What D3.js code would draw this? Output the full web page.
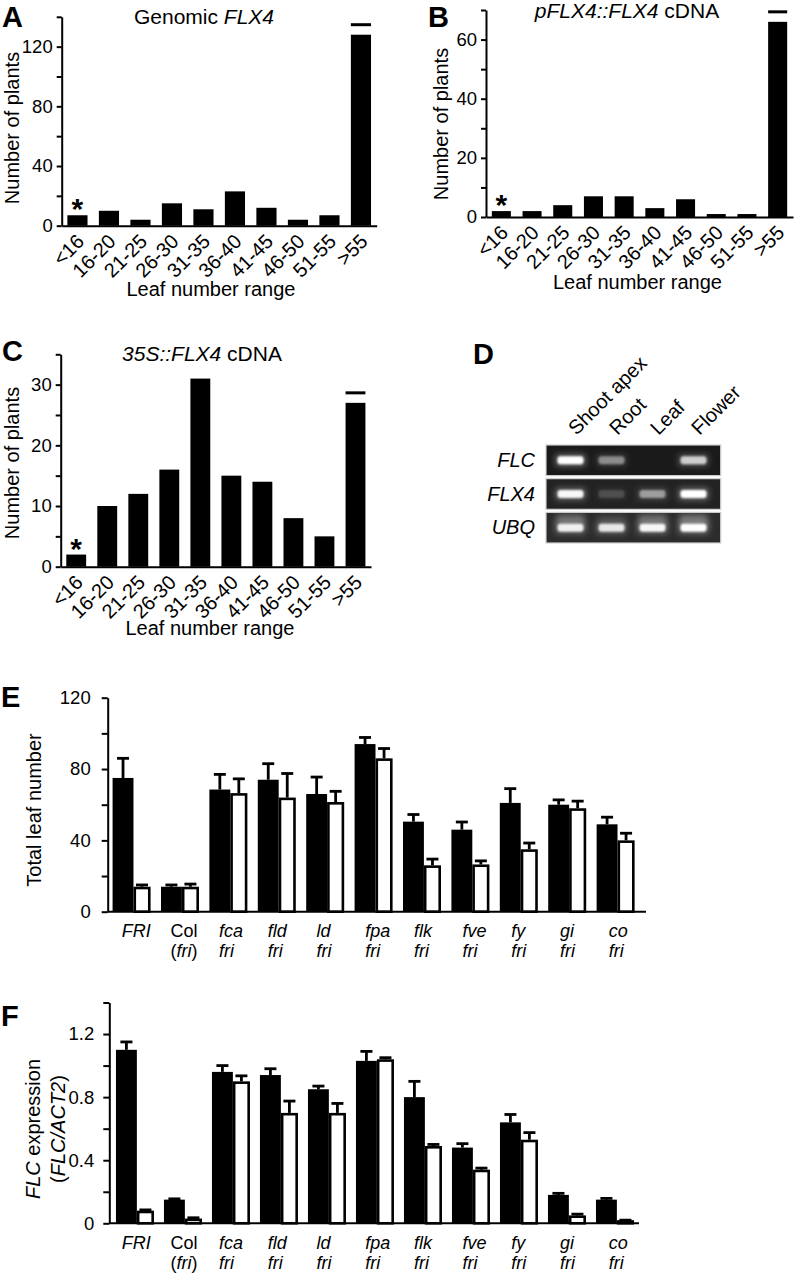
<!DOCTYPE html>
<html><head><meta charset="utf-8">
<script src="https://cdn.jsdelivr.net/npm/d3@7"></script>
<style>
body{margin:0;background:#fff;}
svg{display:block;font-family:"Liberation Sans",Arial,Helvetica,sans-serif;}
</style></head><body>
<svg id="fig" width="797" height="1273"></svg>
<script>
// ---------------- data ----------------
const leafRanges = ["<16","16-20","21-25","26-30","31-35","36-40","41-45","46-50","51-55",">55"];
const genomicCounts = [7,10,4,15,11,23,12,4,7,128];
const pFlx4Counts   = [2,2,4,7,7,3,6,1,1,66];
const s35Counts     = [2,10,12,16,31,15,14,8,5,27];
const ticksA = [0,40,80,120], minorA = [20,60,100,140];
const ticksB = [0,20,40,60],  minorB = [10,30,50,70];
const ticksC = [0,10,20,30],  minorC = [5,15,25,35];

const tissues = ["Shoot apex","Root","Leaf","Flower"];
const genes = ["FLC","FLX4","UBQ"];
const bandFLC  = [1.0,0.42,0.0,0.72];
const bandFLX4 = [0.95,0.16,0.48,1.0];
const bandUBQ  = [0.9,0.85,0.95,1.0];
const ubqSmear = [0.45,0.15,0.45,0.5];

const genotypes = ["FRI","Col","fca","fld","ld","fpa","flk","fve","fy","gi","co"];
const genoLine2 = ["","(fri)","fri","fri","fri","fri","fri","fri","fri","fri","fri"];
const leafBlack    = [75,14,68.5,74,66,94,50.5,46,61,60,49];
const leafBlackErr = [11,1,8.5,9,9.5,3.7,4,4.3,8,2.7,4];
const leafWhite    = [14,14,66.5,64,61.5,86,26,26.5,35,58,40];
const leafWhiteErr = [1,1.5,8,13.5,6,5.5,3.5,2,3.5,4,4];
const ticksE = [0,40,80,120], minorE = [20,60,100];

const flcBlack    = [1.10,0.15,0.96,0.94,0.85,1.03,0.80,0.48,0.64,0.18,0.15];
const flcBlackErr = [0.05,0.005,0.04,0.04,0.02,0.06,0.10,0.025,0.05,0.01,0.008];
const flcWhite    = [0.08,0.03,0.90,0.70,0.70,1.04,0.49,0.34,0.53,0.05,0.02];
const flcWhiteErr = [0.005,0.005,0.035,0.075,0.06,0.01,0.01,0.01,0.045,0.008,0];
const ticksF = [0,0.4,0.8,1.2], minorF = [0.2,0.6,1.0,1.4];

// ---------------- helpers ----------------
const svg = d3.select("#fig");
const LBL = 20, TICK = 18.5, CAT = 20, GCAT = 18;

function styleAxis(g, fs){
  g.attr("font-family", null).attr("font-size", null);
  g.select(".domain").attr("stroke","#000").attr("stroke-width",2);
  g.selectAll(".tick line").attr("stroke","#000").attr("stroke-width",2);
  g.selectAll(".tick text").attr("fill","#000").style("font-size", (fs||TICK)+"px");
}
function letter(t,x,y){
  svg.append("text").attr("x",x).attr("y",y).attr("font-weight","bold").attr("font-size",29).text(t);
}
function richText(parent, parts, x, y, anchor, fs, transform){
  const t = parent.append("text").attr("x",x).attr("y",y).attr("text-anchor",anchor||"middle")
    .attr("font-size",fs||LBL);
  if (transform) t.attr("transform",transform);
  parts.forEach(p=>{
    t.append("tspan").attr("font-style",p[1]?"italic":"normal").text(p[0]);
  });
  return t;
}

function histogram(c){
  const x = d3.scaleBand().domain(leafRanges).range([c.x0,c.x1]).paddingInner(c.pi).paddingOuter(c.pi/2);
  const y = d3.scaleLinear().domain([0,c.max]).range([c.y0,c.y1]);
  const g = svg.append("g");
  g.selectAll("rect").data(c.values).join("rect")
    .attr("x",(d,i)=>x(leafRanges[i])).attr("width",x.bandwidth())
    .attr("y",d=>y(d)).attr("height",d=>c.y0-y(d)).attr("fill","#000");
  const ay = g.append("g").attr("transform",`translate(${c.x0},0)`)
    .call(d3.axisLeft(y).tickValues(c.major).tickSize(5).tickSizeOuter(0).tickPadding(4));
  styleAxis(ay);
  const am = g.append("g").attr("transform",`translate(${c.x0},0)`)
    .call(d3.axisLeft(y).tickValues(c.minor).tickSize(5).tickSizeOuter(0).tickFormat(""));
  styleAxis(am); am.select(".domain").remove();
  const ax = g.append("g").attr("transform",`translate(0,${c.y0})`)
    .call(d3.axisBottom(x).tickSize(0).tickSizeOuter(0));
  styleAxis(ax, CAT);
  ax.selectAll(".tick text").attr("y",0).attr("dy",null).attr("text-anchor","end")
    .attr("transform","translate(8,17) rotate(-45)");
  const first = leafRanges[0], last = leafRanges[leafRanges.length-1];
  g.append("text").attr("x",x(first)+x.bandwidth()/2).attr("y",y(c.values[0])+4)
    .attr("text-anchor","middle").attr("font-size",30).attr("font-weight","bold").text("*");
  g.append("line").attr("x1",x(last)).attr("x2",x(last)+x.bandwidth())
    .attr("y1",y(c.values[c.values.length-1])-10).attr("y2",y(c.values[c.values.length-1])-10)
    .attr("stroke","#000").attr("stroke-width",3);
  richText(g, c.title, c.tx, c.ty, "middle", 21);
  g.append("text").attr("x",c.xlx).attr("y",c.xly).attr("text-anchor","middle").attr("font-size",LBL).text("Leaf number range");
  g.append("text").attr("transform",`translate(${c.ylx},${c.yly}) rotate(-90)`).attr("text-anchor","middle")
    .attr("font-size",LBL).text("Number of plants");
}

function grouped(c){
  const x = d3.scaleBand().domain(genotypes).range([c.x0,c.x1]).paddingInner(c.pi).paddingOuter(c.po).align(c.align);
  const y = d3.scaleLinear().domain([0,c.max]).range([c.y0,c.y1]);
  const g = svg.append("g");
  const bw = x.bandwidth(), wb = bw*0.55, sw = 2.6;
  const rows = genotypes.map((k,i)=>({k, b:c.black[i], be:c.blackErr[i], w:c.white[i], we:c.whiteErr[i]}));
  g.selectAll("rect.b").data(rows).join("rect").attr("class","b")
    .attr("x",d=>x(d.k)).attr("width",wb).attr("y",d=>y(d.b)).attr("height",d=>c.y0-y(d.b)).attr("fill","#000");
  g.selectAll("rect.w").data(rows).join("rect").attr("class","w")
    .attr("x",d=>x(d.k)+wb+sw/2).attr("width",bw-wb-sw)
    .attr("y",d=>y(d.w)+sw/2).attr("height",d=>Math.max(0,c.y0-y(d.w)-sw/2))
    .attr("fill","#fff").attr("stroke","#000").attr("stroke-width",sw);
  const errs = [];
  rows.forEach(d=>{
    errs.push({cx:x(d.k)+wb/2, v:d.b, e:d.be});
    errs.push({cx:x(d.k)+wb+(bw-wb)/2, v:d.w, e:d.we});
  });
  const eg = g.append("g").attr("stroke","#000").attr("stroke-width",2.8);
  eg.selectAll("line.v").data(errs).join("line").attr("x1",d=>d.cx).attr("x2",d=>d.cx)
    .attr("y1",d=>y(d.v)).attr("y2",d=>y(d.v+d.e));
  eg.selectAll("line.c").data(errs).join("line").attr("x1",d=>d.cx-6).attr("x2",d=>d.cx+6)
    .attr("y1",d=>y(d.v+d.e)).attr("y2",d=>y(d.v+d.e));
  const ay = g.append("g").attr("transform",`translate(${c.x0},0)`)
    .call(d3.axisLeft(y).tickValues(c.major).tickSize(6).tickSizeOuter(0).tickPadding(c.tp).tickFormat(c.fmt));
  styleAxis(ay);
  const am = g.append("g").attr("transform",`translate(${c.x0},0)`)
    .call(d3.axisLeft(y).tickValues(c.minor).tickSize(6).tickSizeOuter(0).tickFormat(""));
  styleAxis(am); am.select(".domain").remove();
  g.append("line").attr("x1",c.x0).attr("x2",c.x1).attr("y1",c.y0).attr("y2",c.y0).attr("stroke","#000").attr("stroke-width",2);
  const lx = d3.scalePoint().domain(genotypes).range([121.7,608.7]);
  genotypes.forEach((k,i)=>{
    const it = k!=="Col";
    richText(g, [[k,it]], lx(k), c.l1, "start", GCAT);
    const l2 = genoLine2[i];
    if (l2 === "(fri)") richText(g, [["(",false],["fri",true],[")",false]], lx(k), c.l2, "start", GCAT);
    else if (l2) richText(g, [[l2,true]], lx(k), c.l2, "start", GCAT);
  });
  return g;
}

// ---------------- panels A, B, C ----------------
histogram({x0:61.7,x1:376.7,y0:225.7,y1:16.8,max:140,major:ticksA,minor:minorA,values:genomicCounts,pi:0.36,
  title:[["Genomic ",false],["FLX4",true]],tx:204,ty:23.5,xlx:211,xly:296,ylx:19,yly:128});
histogram({x0:486,x1:793,y0:217,y1:10,max:70,major:ticksB,minor:minorB,values:pFlx4Counts,pi:0.38,
  title:[["pFLX4::FLX4",true],[" cDNA",false]],tx:627,ty:17.5,xlx:637.5,xly:289,ylx:448,yly:124});
histogram({x0:60.7,x1:371,y0:566.7,y1:354.3,max:35,major:ticksC,minor:minorC,values:s35Counts,pi:0.36,
  title:[["35S::FLX4",true],[" cDNA",false]],tx:202,ty:360.5,xlx:210,xly:635,ylx:19,yly:463});
letter("A",2,26.5); letter("B",428,26.5); letter("C",2,360.5);

// ---------------- panel D (gel) ----------------
letter("D",473,363.5);
const defs = svg.append("defs");
defs.append("filter").attr("id","blur1").attr("x","-50%").attr("y","-100%").attr("width","200%").attr("height","300%")
  .append("feGaussianBlur").attr("stdDeviation",1.3);
defs.append("filter").attr("id","blur3").attr("x","-50%").attr("y","-100%").attr("width","200%").attr("height","300%")
  .append("feGaussianBlur").attr("stdDeviation",3);
const lane = d3.scaleBand().domain(tissues).range([550,714]);
const row = d3.scaleBand().domain(genes).range([445,543]).paddingInner(0.09);
const gel = svg.append("g");
const rowBg = {FLC:"#1a1a1a",FLX4:"#222",UBQ:"#2c2c2c"};
gel.selectAll("rect.row").data(genes).join("rect").attr("class","row")
  .attr("x",546).attr("width",174.7).attr("y",d=>row(d)).attr("height",row.bandwidth())
  .attr("fill",d=>rowBg[d]).attr("stroke","#d0d0d0").attr("stroke-width",1.2);
const bandData = [];
[bandFLC,bandFLX4,bandUBQ].forEach((arr,gi)=>arr.forEach((v,ti)=>bandData.push({g:genes[gi],t:tissues[ti],v})));
gel.selectAll("rect.smear").data(ubqSmear).join("rect").attr("class","smear")
  .attr("x",(d,i)=>lane(tissues[i])+lane.bandwidth()/2-14).attr("width",28)
  .attr("y",row("UBQ")+2).attr("height",row.bandwidth()/2-4)
  .attr("fill","#bbb").attr("opacity",d=>d).attr("filter","url(#blur3)");
gel.selectAll("rect.glow").data(bandData).join("rect").attr("class","glow")
  .attr("x",d=>lane(d.t)+lane.bandwidth()/2-15).attr("width",30)
  .attr("y",d=>row(d.g)+row.bandwidth()/2-6).attr("height",12)
  .attr("fill","#aaa").attr("opacity",d=>d.v*0.55).attr("filter","url(#blur3)");
gel.selectAll("rect.band").data(bandData).join("rect").attr("class","band")
  .attr("x",d=>lane(d.t)+lane.bandwidth()/2-13).attr("width",26)
  .attr("y",d=>row(d.g)+row.bandwidth()/2-4).attr("height",8).attr("rx",3)
  .attr("fill","#fff").attr("opacity",d=>d.v).attr("filter","url(#blur1)");
gel.selectAll("text.gene").data(genes).join("text").attr("class","gene")
  .attr("x",535).attr("y",d=>row(d)+row.bandwidth()/2+6.5).attr("text-anchor","end")
  .attr("font-size",LBL).attr("font-style","italic").text(d=>d);
gel.selectAll("text.tis").data(tissues).join("text").attr("class","tis")
  .attr("transform",d=>`translate(${lane(d)+lane.bandwidth()/2+6},436) rotate(-45)`)
  .attr("font-size",20).text(d=>d);

// ---------------- panel E ----------------
letter("E",1,706.5);
const gE = grouped({x0:107.7,x1:646,y0:911.7,y1:697.7,max:120,major:ticksE,minor:minorE,
  black:leafBlack,blackErr:leafBlackErr,white:leafWhite,whiteErr:leafWhiteErr,
  pi:0.215,po:0.168,align:0.3,tp:11,fmt:d3.format("d"),l1:936.5,l2:956.8});
gE.append("text").attr("transform","translate(41,810) rotate(-90)").attr("text-anchor","middle")
  .attr("font-size",LBL).text("Total leaf number");

// ---------------- panel F ----------------
letter("F",1,1025.5);
const gF = grouped({x0:109.3,x1:639,y0:1223.3,y1:1002.5,max:1.4,major:ticksF,minor:minorF,
  black:flcBlack,blackErr:flcBlackErr,white:flcWhite,whiteErr:flcWhiteErr,
  pi:0.208,po:0.1215,align:0.57,tp:9,fmt:d=>d===0?"0":d3.format(".1f")(d),l1:1248.8,l2:1269});
richText(gF, [["FLC",true],[" expression",false]], 0, 0, "middle", LBL, "translate(40,1129) rotate(-90)");
richText(gF, [["(",false],["FLC/ACT2",true],[")",false]], 0, 0, "middle", LBL, "translate(65,1129) rotate(-90)");
</script>
</body></html>
